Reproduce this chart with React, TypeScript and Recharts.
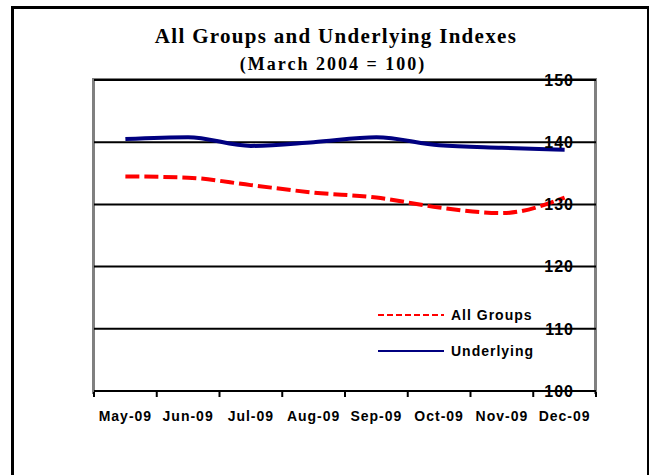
import React from "react";
import { LineChart, Line, XAxis, YAxis, CartesianGrid } from "recharts";

const months = ["May-09", "Jun-09", "Jul-09", "Aug-09", "Sep-09", "Oct-09", "Nov-09", "Dec-09"];
const allGroups = [134.5, 134.3, 133.1, 131.9, 131.1, 129.5, 128.6, 131.1];
const underlying = [140.5, 140.8, 139.4, 140.0, 140.8, 139.5, 139.1, 138.8];
const yTicks = [100, 110, 120, 130, 140, 150];

const data = months.map((m, i) => ({ month: m, all: allGroups[i], under: underlying[i] }));

const sans = "'Liberation Sans', Arial, sans-serif";
const serif = "'Liberation Serif', 'Times New Roman', serif";

function XTick(props: any) {
  const { x, y, payload, index } = props;
  const half = payload && payload.offset ? payload.offset : 31.4;
  return (
    <g>
      <line x1={x - half} x2={x - half} y1={y - 7} y2={y - 2} stroke="#000" strokeWidth={2} />
      {index === months.length - 1 && (
        <line x1={x + half} x2={x + half} y1={y - 7} y2={y - 2} stroke="#000" strokeWidth={2} />
      )}
      <text x={x} y={y + 22} textAnchor="middle" fontFamily={sans} fontWeight="bold" fontSize={14} letterSpacing={1} fill="#000">
        {payload.value}
      </text>
    </g>
  );
}

function YTick(props: any) {
  const { x, y, payload } = props;
  return (
    <text x={x - 30} y={y} dy="0.36em" textAnchor="end" fontFamily={sans} fontWeight="bold" fontSize={16} letterSpacing={1} fill="#000">
      {payload.value}
    </text>
  );
}

function LegendBox() {
  const row = (label: string, color: string, dash?: string) => (
    <div style={{ display: "flex", alignItems: "center", height: 36 }}>
      <svg width={66} height={6}>
        <line x1={0} x2={66} y1={3} y2={3} stroke={color} strokeWidth={2} strokeDasharray={dash} />
      </svg>
      <span style={{ marginLeft: 7, fontFamily: sans, fontWeight: "bold", fontSize: 14, letterSpacing: 1 }}>{label}</span>
    </div>
  );
  return (
    <div style={{ position: "absolute", left: 378, top: 297 }}>
      {row("All Groups", "#ff0000", "6 3")}
      {row("Underlying", "#000080")}
    </div>
  );
}

export default function App() {
  return (
    <div style={{ position: "absolute", left: 0, top: 0, width: 649, height: 475, background: "#fff", overflow: "hidden" }}>
      <div style={{ position: "absolute", left: 11, top: 6, width: 633, height: 480, border: "3px solid #000" }} />
      <div
        style={{
          position: "absolute",
          left: 92,
          top: 78,
          width: 499,
          height: 313,
          borderLeft: "3px solid #808080",
          borderTop: "3px solid #808080",
          borderRight: "3px solid #808080",
        }}
      />
      <div
        style={{
          position: "absolute",
          left: 0,
          width: 672,
          top: 24,
          textAlign: "center",
          fontFamily: serif,
          fontWeight: "bold",
          fontSize: 21,
          letterSpacing: 1.3,
          lineHeight: "24px",
        }}
      >
        All Groups and Underlying Indexes
      </div>
      <div
        style={{
          position: "absolute",
          left: 0,
          width: 666,
          top: 54,
          textAlign: "center",
          fontFamily: serif,
          fontWeight: "bold",
          fontSize: 18,
          letterSpacing: 2,
          lineHeight: "20px",
        }}
      >
        (March 2004 = 100)
      </div>
      <div style={{ position: "absolute", left: 0, top: 0 }}>
        <LineChart width={649} height={475} data={data} margin={{ top: 80, right: 52, left: 94, bottom: 44 }}>
          <CartesianGrid horizontal vertical={false} stroke="#000" strokeWidth={2} />
          <XAxis
            dataKey="month"
            scale="band"
            height={40}
            tickLine={false}
            axisLine={{ stroke: "#000", strokeWidth: 2 }}
            tick={<XTick />}
            interval={0}
          />
          <YAxis
            orientation="right"
            width={1}
            domain={[100, 150]}
            ticks={yTicks}
            axisLine={false}
            tickLine={false}
            tick={<YTick />}
            interval={0}
          />
          <Line
            dataKey="under"
            type="monotone"
            stroke="#000080"
            strokeWidth={4}
            dot={false}
            isAnimationActive={false}
            name="Underlying"
          />
          <Line
            dataKey="all"
            type="monotone"
            stroke="#ff0000"
            strokeWidth={4}
            strokeDasharray="14 5"
            dot={false}
            isAnimationActive={false}
            name="All Groups"
          />
        </LineChart>
      </div>
      <LegendBox />
    </div>
  );
}
